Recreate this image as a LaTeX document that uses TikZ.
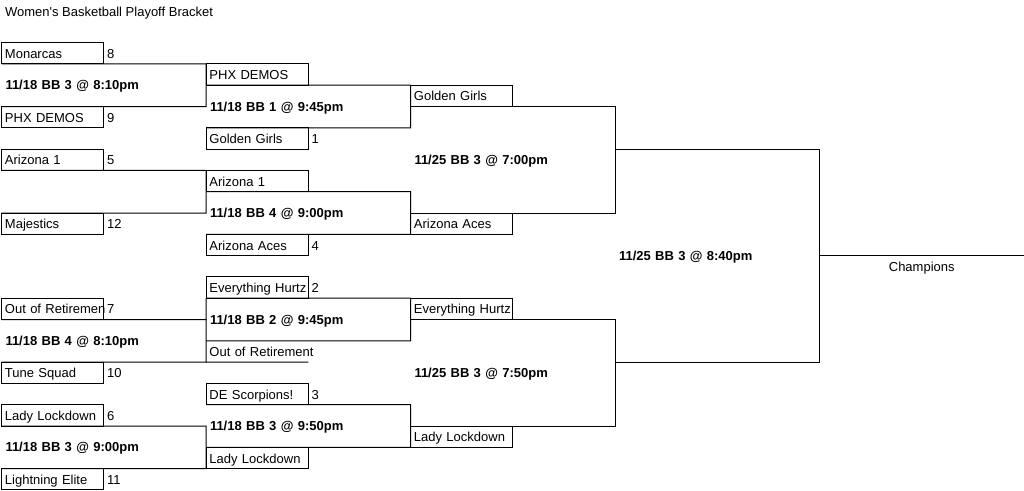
\documentclass[tikz,border=0pt]{standalone}
\usepackage{fontspec}
\newfontfamily\cellfont{Liberation Sans}
\begin{document}
\begin{tikzpicture}[x=0.75pt, y=-0.75pt, line width=0.75pt,
    every node/.style={font=\cellfont\fontsize{9.75}{11}\selectfont, outer sep=0pt},
    team/.style={draw, anchor=north west, minimum width=76.69pt, minimum height=15.975pt, inner xsep=2.6pt, inner ysep=0pt, text width=71.49pt, align=left, text height=8.2pt, text depth=0.5pt},
    bare/.style={team, draw=none},
    score/.style={anchor=base west, inner xsep=2.6pt, inner ysep=0pt},
    game/.style={anchor=north west, minimum width=153.38pt, inner xsep=3pt, inner ysep=0pt, text width=147.38pt, align=left, text height=7.5pt, text depth=0.5pt, font=\cellfont\fontsize{9.75}{11}\selectfont\bfseries}]
        \useasboundingbox (0,0) rectangle (1024,490);
        \node[anchor=base west, inner sep=0pt] (title) at (5,16) {Women's Basketball Playoff Bracket};

        \node[team] (monarcas) at (1.5,42.6) {Monarcas};
        \node[score] (s1) at (monarcas.base east) {8};
        \node[team] (phxa) at (1.5,106.5) {PHX DEMOS};
        \node[score] (s2) at (phxa.base east) {9};
        \node[team] (aza) at (1.5,149.1) {Arizona 1};
        \node[score] (s3) at (aza.base east) {5};
        \node[team] (majestics) at (1.5,213) {Majestics};
        \node[score] (s4) at (majestics.base east) {12};
        \node[team] (outa) at (1.5,298.2) {\mbox{Out of Retiremen}};
        \node[score] (s5) at (outa.base east) {7};
        \node[team] (tune) at (1.5,362.1) {Tune Squad};
        \node[score] (s6) at (tune.base east) {10};
        \node[team] (ladya) at (1.5,404.7) {Lady Lockdown};
        \node[score] (s7) at (ladya.base east) {6};
        \node[team] (lightning) at (1.5,468.6) {Lightning Elite};
        \node[score] (s8) at (lightning.base east) {11};

        \node[team] (phxc) at (206,63.9) {PHX DEMOS};
        \node[team] (goldenc) at (206,127.8) {Golden Girls};
        \node[score] (s9) at (goldenc.base east) {1};
        \node[team] (azc) at (206,170.4) {Arizona 1};
        \node[team] (acesc) at (206,234.3) {Arizona Aces};
        \node[score] (s10) at (acesc.base east) {4};
        \node[team] (hurtzc) at (206,276.9) {\mbox{Everything Hurtz}};
        \node[score] (s11) at (hurtzc.base east) {2};
        \node[bare] (retc) at (206,340.8) {\mbox{Out of Retirement}};
        \node[team] (scorp) at (206,383.4) {DE Scorpions!};
        \node[score] (s12) at (scorp.base east) {3};
        \node[team] (ladyc) at (206,447.3) {Lady Lockdown};

        \node[team] (goldene) at (410.5,85.2) {Golden Girls};
        \node[team] (acese) at (410.5,213) {Arizona Aces};
        \node[team] (hurtze) at (410.5,298.2) {\mbox{Everything Hurtz}};
        \node[team] (ladye) at (410.5,426) {Lady Lockdown};

        \node[game, minimum height=31.95pt] (g1) at (1.5,63.9) {11/18 BB 3 @ 8:10pm};
        \node[game, minimum height=31.95pt] (g2) at (1.5,170.4) {};
        \node[game, minimum height=31.95pt] (g3) at (1.5,319.5) {11/18 BB 4 @ 8:10pm};
        \node[game, minimum height=31.95pt] (g4) at (1.5,426) {11/18 BB 3 @ 9:00pm};
        \node[game, minimum height=31.95pt] (g5) at (206,85.2) {11/18 BB 1 @ 9:45pm};
        \node[game, minimum height=31.95pt] (g6) at (206,191.7) {11/18 BB 4 @ 9:00pm};
        \node[game, minimum height=31.95pt] (g7) at (206,298.2) {11/18 BB 2 @ 9:45pm};
        \node[game, minimum height=31.95pt] (g8) at (206,404.7) {11/18 BB 3 @ 9:50pm};
        \node[game, minimum height=79.875pt] (g9) at (410.5,106.5) {11/25 BB 3 @ 7:00pm};
        \node[game, minimum height=79.875pt] (g10) at (410.5,319.5) {11/25 BB 3 @ 7:50pm};
        \node[game, minimum height=159.75pt] (g11) at (615,149.1) {11/25 BB 3 @ 8:40pm};
        \node[bare, minimum width=153.375pt, text width=148pt, align=center] (champ) at (819.5,255.6) {Champions};

        \draw (monarcas.south west) -- (g1.north east) -- (g1.south east) -- (phxa.north west);
        \draw (aza.south west) -- (g2.north east) -- (g2.south east) -- (majestics.north west);
        \draw (outa.south west) -- (g3.north east) -- (g3.south east) -- (tune.north west);
        \draw (ladya.south west) -- (g4.north east) -- (g4.south east) -- (lightning.north west);

        \draw (phxc.south west) -- (g5.north east) -- (g5.south east) -- (goldenc.north west);
        \draw (azc.south west) -- (g6.north east) -- (g6.south east) -- (acesc.north west);
        \draw (hurtzc.south west) -- (g7.north east) -- (g7.south east) -- (retc.north west);
        \draw (scorp.south west) -- (g8.north east) -- (g8.south east) -- (ladyc.north west);
        \draw (g7.north west) -- (g3.north east);
        \draw (g3.south east) -- (retc.south east);

        \draw (goldene.south west) -- (g9.north east) -- (g9.south east) -- (acese.north west);
        \draw (hurtze.south west) -- (g10.north east) -- (g10.south east) -- (ladye.north west);

        \draw (g11.north west) -- (g11.north east) -- (g11.south east) -- (g11.south west);
        \draw (g11.east) -- (champ.north east);
    \end{tikzpicture}
\end{document}
